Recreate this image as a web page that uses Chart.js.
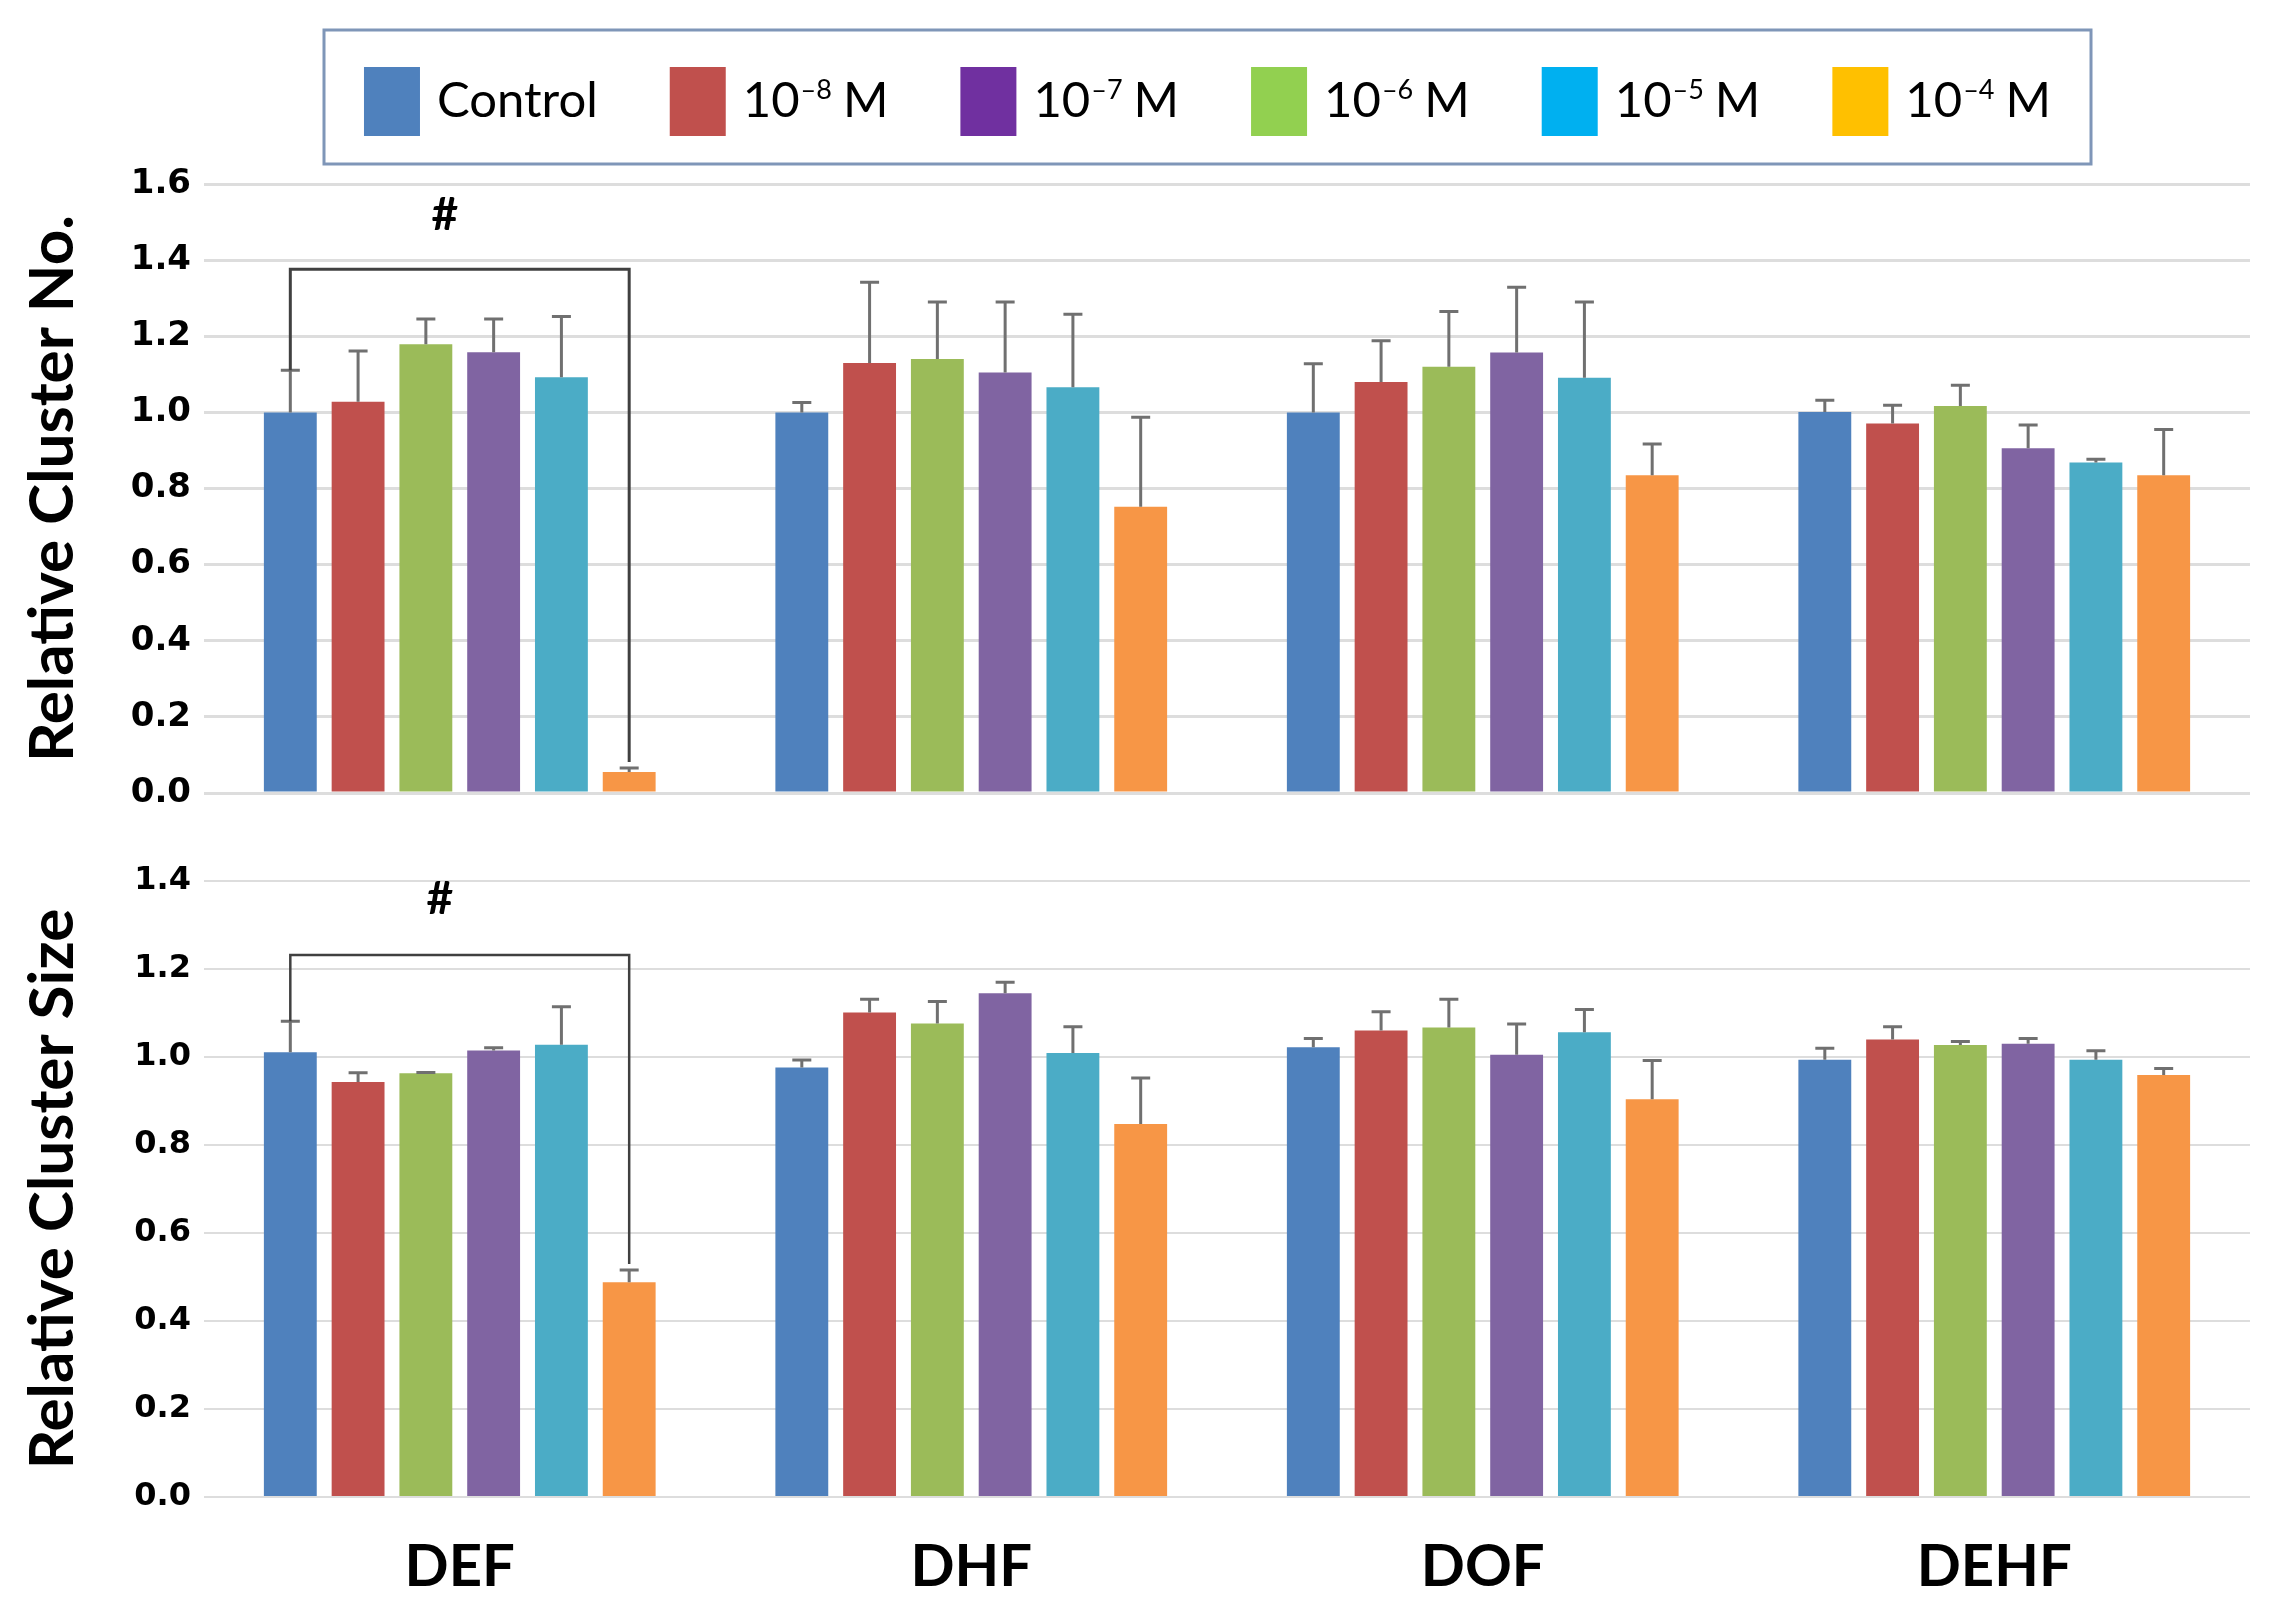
<!DOCTYPE html>
<html>
<head>
<meta charset="utf-8">
<script src="https://cdn.jsdelivr.net/npm/chart.js@4.4.1/dist/chart.umd.min.js"></script>
<style>
    html, body { margin: 0; padding: 0; background: #fff; }
    #wrap { position: relative; width: 2288px; height: 1619px; }
    canvas { position: absolute; left: 0; }
    #topChart { top: 0; }
    #bottomChart { top: 830px; }
</style>
</head>
<body>
<div id="wrap">
    <canvas id="topChart" width="2288" height="830"></canvas>
    <canvas id="bottomChart" width="2288" height="789"></canvas>
</div>
<script>
// Categories and series
const categories = ['DEF', 'DHF', 'DOF', 'DEHF'];
const seriesNames = ['Control', '10⁻⁸ M', '10⁻⁷ M', '10⁻⁶ M', '10⁻⁵ M', '10⁻⁴ M'];
const legendExponents = [null, '–8', '–7', '–6', '–5', '–4'];

// Bar colours (as drawn) and legend swatch colours (as drawn)
const barColors = ['#4F81BD', '#C0504D', '#9BBB59', '#8064A2', '#4BACC6', '#F79646'];
const legendColors = ['#4F81BD', '#C0504D', '#7030A0', '#92D050', '#00B0F0', '#FFC000'];

// Relative Cluster No. (top panel), one array per series across categories
const noControl = [1.000, 1.000, 1.000, 1.001];
const no1e8 = [1.028, 1.130, 1.080, 0.971];
const no1e7 = [1.179, 1.140, 1.120, 1.017];
const no1e6 = [1.158, 1.105, 1.157, 0.906];
const no1e5 = [1.092, 1.066, 1.091, 0.868];
const no1e4 = [0.055, 0.752, 0.835, 0.835];

const noErrControl = [0.111, 0.026, 0.128, 0.031];
const noErr1e8 = [0.133, 0.212, 0.108, 0.048];
const noErr1e7 = [0.066, 0.150, 0.145, 0.054];
const noErr1e6 = [0.087, 0.185, 0.172, 0.061];
const noErr1e5 = [0.160, 0.192, 0.199, 0.009];
const noErr1e4 = [0.011, 0.235, 0.082, 0.120];

// Relative Cluster Size (bottom panel)
const sizeControl = [1.011, 0.976, 1.022, 0.994];
const size1e8 = [0.943, 1.101, 1.060, 1.040];
const size1e7 = [0.963, 1.076, 1.067, 1.027];
const size1e6 = [1.015, 1.145, 1.005, 1.030];
const size1e5 = [1.028, 1.009, 1.056, 0.994];
const size1e4 = [0.488, 0.848, 0.904, 0.959];

const sizeErrControl = [0.070, 0.017, 0.020, 0.026];
const sizeErr1e8 = [0.021, 0.030, 0.043, 0.029];
const sizeErr1e7 = [0.002, 0.050, 0.064, 0.008];
const sizeErr1e6 = [0.006, 0.025, 0.070, 0.012];
const sizeErr1e5 = [0.086, 0.060, 0.052, 0.020];
const sizeErr1e4 = [0.028, 0.104, 0.088, 0.015];

// Tick values
const topTicks = [0, 0.2, 0.4, 0.6, 0.8, 1.0, 1.2, 1.4, 1.6];
const bottomTicks = [0, 0.2, 0.4, 0.6, 0.8, 1.0, 1.2, 1.4];

// Significance brackets (DEF: Control vs 10^-4 M)
const topBracket = { from: 0, to: 5, category: 0, level: 1.376, labelLevel: 1.517, text: '#' };
const bottomBracket = { from: 0, to: 5, category: 0, level: 1.232, labelLevel: 1.359, text: '#' };

function makeDatasets(values, errors) {
    return values.map((vals, i) => ({
        label: seriesNames[i],
        data: vals,
        errors: errors[i],
        backgroundColor: barColors[i],
        borderWidth: 0,
        categoryPercentage: 0.795,
        barPercentage: 0.78
    }));
}

// Upward error bars
const errorBarPlugin = {
    id: 'errorBars',
    afterDatasetsDraw(chart, args, opts) {
        const ctx = chart.ctx;
        const y = chart.scales.y;
        ctx.save();
        ctx.strokeStyle = opts.color;
        ctx.lineWidth = opts.width;
        chart.data.datasets.forEach((ds, i) => {
            chart.getDatasetMeta(i).data.forEach((bar, j) => {
                const top = y.getPixelForValue(ds.data[j] + ds.errors[j]);
                ctx.beginPath();
                ctx.moveTo(bar.x, bar.y);
                ctx.lineTo(bar.x, top);
                ctx.moveTo(bar.x - opts.cap / 2, top);
                ctx.lineTo(bar.x + opts.cap / 2, top);
                ctx.stroke();
            });
        });
        ctx.restore();
    }
};

// Bracket with "#" mark
const bracketPlugin = {
    id: 'bracket',
    afterDatasetsDraw(chart, args, opts) {
        const b = opts.bracket;
        if (!b) return;
        const ctx = chart.ctx;
        const y = chart.scales.y;
        const dsA = chart.data.datasets[b.from];
        const dsB = chart.data.datasets[b.to];
        const barA = chart.getDatasetMeta(b.from).data[b.category];
        const barB = chart.getDatasetMeta(b.to).data[b.category];
        const yA = y.getPixelForValue(dsA.data[b.category] + dsA.errors[b.category]);
        const yB = y.getPixelForValue(dsB.data[b.category] + dsB.errors[b.category]) - opts.gap;
        const yL = y.getPixelForValue(b.level);
        ctx.save();
        ctx.strokeStyle = opts.color;
        ctx.lineWidth = opts.width;
        ctx.beginPath();
        ctx.moveTo(barA.x, yA);
        ctx.lineTo(barA.x, yL);
        ctx.lineTo(barB.x, yL);
        ctx.lineTo(barB.x, yB);
        ctx.stroke();
        ctx.fillStyle = '#000';
        ctx.font = opts.font;
        ctx.textAlign = 'center';
        ctx.textBaseline = 'middle';
        ctx.fillText(b.text, (barA.x + barB.x) / 2 + opts.dx, y.getPixelForValue(b.labelLevel));
        ctx.restore();
    }
};

// Framed legend with tall swatches and superscript exponents
const legendBoxPlugin = {
    id: 'legendBox',
    afterDraw(chart, args, opts) {
        if (!opts.show) return;
        const ctx = chart.ctx;
        const mainFont = '49px Lato';
        const supFont = '27px Lato';
        const mGap = 11;
        ctx.save();
        // measure items
        const widths = seriesNames.map((name, i) => {
            ctx.font = mainFont;
            if (!legendExponents[i]) return ctx.measureText(name).width;
            let w = ctx.measureText('10').width + 1;
            ctx.font = supFont;
            w += ctx.measureText(legendExponents[i]).width + mGap;
            ctx.font = mainFont;
            w += ctx.measureText('M').width;
            return w;
        });
        const sw = 56, sh = 69, gap = 17, spacing = 72;
        const total = widths.reduce((s, w) => s + sw + gap + w, 0) + spacing * (widths.length - 1);
        const cx = (opts.box.left + opts.box.right) / 2;
        let x = cx - total / 2;

        ctx.strokeStyle = '#7F96B8';
        ctx.lineWidth = 3;
        ctx.strokeRect(opts.box.left, opts.box.top, opts.box.right - opts.box.left, opts.box.bottom - opts.box.top);

        const swTop = 67;
        const baseline = 117;
        ctx.textBaseline = 'alphabetic';
        ctx.textAlign = 'left';
        seriesNames.forEach((name, i) => {
            ctx.fillStyle = legendColors[i];
            ctx.fillRect(x, swTop, sw, sh);
            let tx = x + sw + gap;
            ctx.fillStyle = '#000';
            ctx.font = mainFont;
            if (!legendExponents[i]) {
                ctx.fillText(name, tx, baseline);
            } else {
                ctx.fillText('10', tx, baseline);
                tx += ctx.measureText('10').width + 1;
                ctx.font = supFont;
                ctx.fillText(legendExponents[i], tx, baseline - 18);
                tx += ctx.measureText(legendExponents[i]).width + mGap;
                ctx.font = mainFont;
                ctx.fillText('M', tx, baseline);
            }
            x += sw + gap + widths[i] + spacing;
        });
        ctx.restore();
    }
};

Chart.register(errorBarPlugin, bracketPlugin, legendBoxPlugin);

const titleFont = { family: 'Lato', size: 62, weight: 'bold' };

// Top panel: Relative Cluster No.
new Chart(document.getElementById('topChart'), {
    type: 'bar',
    data: {
        labels: categories,
        datasets: makeDatasets(
            [noControl, no1e8, no1e7, no1e6, no1e5, no1e4],
            [noErrControl, noErr1e8, noErr1e7, noErr1e6, noErr1e5, noErr1e4]
        )
    },
    options: {
        responsive: false,
        animation: false,
        devicePixelRatio: 1,
        layout: { padding: { top: 184, right: 38, bottom: 37, left: 0 } },
        plugins: {
            legend: { display: false },
            tooltip: { enabled: false },
            errorBars: { color: '#707070', width: 3, cap: 19 },
            bracket: { bracket: topBracket, color: '#404040', width: 3, gap: 6, dx: -15, font: 'bold 46px Lato' },
            legendBox: { show: true, box: { left: 324, top: 30, right: 2091, bottom: 164 } }
        },
        scales: {
            x: { display: false },
            y: {
                min: 0,
                max: 1.6,
                afterBuildTicks: scale => { scale.ticks = topTicks.map(v => ({ value: v })); },
                afterFit: scale => { scale.width = 204; },
                ticks: { font: { family: 'DejaVu Sans', size: 34, weight: 'bold' }, color: '#000', padding: 13, callback: v => v.toFixed(1) },
                grid: { color: '#DDDDDD', lineWidth: 3, drawTicks: false },
                border: { display: false },
                title: { display: true, text: 'Relative Cluster No.', font: titleFont, color: '#000', padding: { top: 16, bottom: 0 } }
            }
        }
    }
});

// Bottom panel: Relative Cluster Size
new Chart(document.getElementById('bottomChart'), {
    type: 'bar',
    data: {
        labels: categories,
        datasets: makeDatasets(
            [sizeControl, size1e8, size1e7, size1e6, size1e5, size1e4],
            [sizeErrControl, sizeErr1e8, sizeErr1e7, sizeErr1e6, sizeErr1e5, sizeErr1e4]
        )
    },
    options: {
        responsive: false,
        animation: false,
        devicePixelRatio: 1,
        layout: { padding: { top: 51, right: 38, bottom: 0, left: 0 } },
        plugins: {
            legend: { display: false },
            tooltip: { enabled: false },
            errorBars: { color: '#707070', width: 3, cap: 19 },
            bracket: { bracket: bottomBracket, color: '#404040', width: 2.5, gap: 6, dx: -20, font: 'bold 46px Lato' },
            legendBox: { show: false }
        },
        scales: {
            x: {
                afterFit: scale => { scale.height = 122; },
                ticks: { font: { family: 'Lato', size: 58, weight: 'bold' }, color: '#000', padding: 27 },
                grid: { display: false },
                border: { display: false }
            },
            y: {
                min: 0,
                max: 1.4,
                afterBuildTicks: scale => { scale.ticks = bottomTicks.map(v => ({ value: v })); },
                afterFit: scale => { scale.width = 204; },
                ticks: { font: { family: 'DejaVu Sans', size: 32, weight: 'bold' }, color: '#000', padding: 13, callback: v => v.toFixed(1) },
                grid: { color: '#DDDDDD', lineWidth: 2, drawTicks: false },
                border: { display: false },
                title: { display: true, text: 'Relative Cluster Size', font: titleFont, color: '#000', padding: { top: 16, bottom: 0 } }
            }
        }
    }
});
</script>
</body>
</html>
